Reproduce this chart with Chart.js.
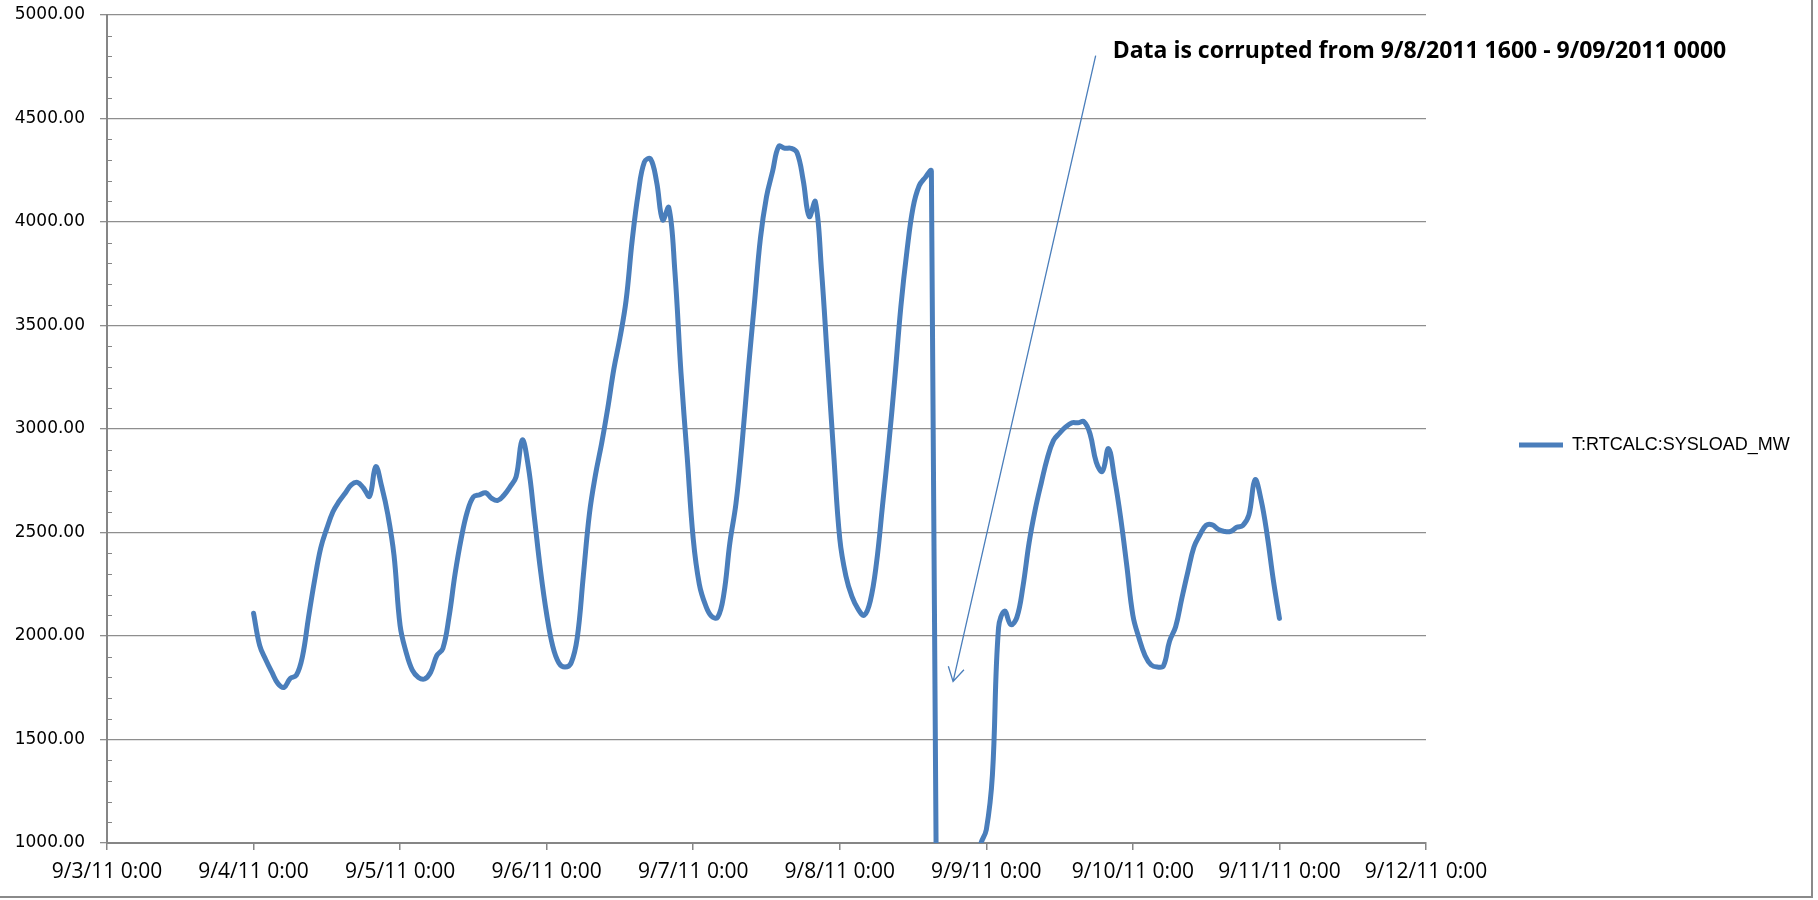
<!DOCTYPE html>
<html>
<head>
<meta charset="utf-8">
<script src="https://cdn.jsdelivr.net/npm/chart.js@4.4.1/dist/chart.umd.min.js"></script>
<style>
  html, body { margin: 0; padding: 0; background: #fff; }
  #wrap {
    position: absolute; left: 0; top: 0;
    width: 1811px; height: 896px;
    border-right: 2px solid #8a8a8a;
    border-bottom: 2px solid #8a8a8a;
  }
</style>
</head>
<body>
<div id="wrap"><canvas id="loadChart"></canvas></div>
<script>
// x axis is in days after 9/3/11 0:00
const tickLabels = ['9/3/11 0:00', '9/4/11 0:00', '9/5/11 0:00', '9/6/11 0:00', '9/7/11 0:00',
                    '9/8/11 0:00', '9/9/11 0:00', '9/10/11 0:00', '9/11/11 0:00', '9/12/11 0:00'];
const yMin = 1000, yMax = 5000, yStep = 500;

// hourly load readings (MW), 0:00 .. 23:00 of each day
const sep04 = [2110, 1955, 1885, 1825, 1770, 1752, 1795, 1810, 1900, 2090, 2270, 2425,
               2520, 2600, 2650, 2690, 2730, 2742, 2715, 2675, 2818, 2720, 2585, 2390];
const sep05 = [2050, 1920, 1835, 1800, 1792, 1825, 1905, 1940, 2090, 2300, 2470, 2600,
               2672, 2682, 2692, 2665, 2655, 2680, 2720, 2770, 2947, 2818, 2570, 2315];
const sep06 = [2105, 1950, 1870, 1850, 1870, 1990, 2290, 2590, 2780, 2930, 3100, 3290,
               3440, 3620, 3910, 4140, 4290, 4305, 4195, 4010, 4070, 3760, 3270, 2870];
const sep07 = [2470, 2250, 2150, 2095, 2090, 2200, 2450, 2640, 2930, 3280, 3600, 3920,
               4122, 4245, 4365, 4356, 4356, 4335, 4203, 4026, 4098, 3770, 3325, 2880];
// 16:00 - 23:00 corrupted (reads far below the axis)
const sep08 = [2470, 2290, 2190, 2130, 2100, 2170, 2350, 2630, 2920, 3240, 3590, 3860,
               4070, 4175, 4215, 4246, 0, 0, 0, 0, 0, 0, 0, 980];
const sep09 = [1065, 1330, 2040, 2120, 2055, 2090, 2240, 2450, 2610, 2740, 2860, 2945,
               2980, 3010, 3030, 3030, 3035, 2975, 2840, 2795, 2905, 2760, 2570, 2340];
const sep10 = [2100, 1990, 1905, 1860, 1850, 1855, 1975, 2045, 2180, 2310, 2430, 2490,
               2535, 2537, 2515, 2505, 2505, 2525, 2534, 2585, 2755, 2657, 2485, 2270];
const sep11 = [2085];

const seriesName = 'T:RTCALC:SYSLOAD_MW';
const noteText = 'Data is corrupted from 9/8/2011 1600 - 9/09/2011 0000';

const blue = '#4a7ebb';
const axisGray = '#868686';
const gridGray = '#8e8e8e';

// build {x, y} points from the day arrays
const points = [];
[sep04, sep05, sep06, sep07, sep08, sep09, sep10, sep11].forEach((vals, d) => {
    vals.forEach((v, h) => points.push({ x: 1 + d + h / 24, y: v }));
});

// legend sizing: keep the plot area ending at the 9/12 tick
const legendFont = { family: 'Liberation Sans', size: 18 };
const legendGap = 93, legendLine = 44;
const mctx = document.createElement('canvas').getContext('2d');
mctx.font = legendFont.size + 'px "' + legendFont.family + '"';
const legendW = legendGap + legendLine + legendFont.size / 2 + mctx.measureText(seriesName).width + 10;
const rightPad = Math.max(0, 385 - legendW);

// small inside ticks every 100 on the value axis
const minorTicks = {
    id: 'minorTicks',
    afterDraw(chart) {
        const { ctx, chartArea, scales: { y } } = chart;
        ctx.save();
        ctx.strokeStyle = axisGray;
        ctx.lineWidth = 1;
        for (let v = yMin + 100; v < yMax; v += 100) {
            if (v % yStep === 0) continue;
            const py = Math.round(y.getPixelForValue(v)) + 0.5;
            ctx.beginPath();
            ctx.moveTo(chartArea.left, py);
            ctx.lineTo(chartArea.left + 5, py);
            ctx.stroke();
        }
        ctx.restore();
    }
};

// callout text with arrow pointing at the gap
const callout = {
    id: 'callout',
    afterDraw(chart) {
        const { ctx, scales: { x, y } } = chart;
        const x0 = x.getPixelForValue(6.746), y0 = y.getPixelForValue(4804);
        const x1 = x.getPixelForValue(5.773), y1 = y.getPixelForValue(1780);
        ctx.save();
        ctx.strokeStyle = blue;
        ctx.lineWidth = 1.3;
        ctx.beginPath();
        ctx.moveTo(x0, y0);
        ctx.lineTo(x1, y1);
        const ang = Math.atan2(y0 - y1, x0 - x1);
        const len = 16, spread = Math.PI / 6;
        ctx.moveTo(x1 + len * Math.cos(ang - spread), y1 + len * Math.sin(ang - spread));
        ctx.lineTo(x1, y1);
        ctx.lineTo(x1 + len * Math.cos(ang + spread), y1 + len * Math.sin(ang + spread));
        ctx.stroke();

        ctx.fillStyle = '#000';
        ctx.font = 'bold 23px "Open Sans"';
        ctx.textBaseline = 'alphabetic';
        ctx.textAlign = 'left';
        ctx.fillText(noteText, x.getPixelForValue(6.862), y.getPixelForValue(4791));
        ctx.restore();
    }
};

Chart.defaults.color = '#000';

new Chart(document.getElementById('loadChart'), {
    type: 'line',
    data: {
        datasets: [{
            label: seriesName,
            data: points,
            borderColor: blue,
            backgroundColor: blue,
            borderWidth: 5,
            borderCapStyle: 'round',
            borderJoinStyle: 'round',
            pointRadius: 0,
            tension: 0.4,
            fill: false,
            clip: 0
        }]
    },
    options: {
        responsive: true,
        maintainAspectRatio: false,
        animation: false,
        devicePixelRatio: 1,
        layout: { padding: { top: 6, right: rightPad, bottom: 12, left: 0 } },
        plugins: {
            legend: {
                position: 'right',
                labels: {
                    usePointStyle: true,
                    pointStyle: 'line',
                    pointStyleWidth: legendLine,
                    boxWidth: legendLine,
                    padding: legendGap,
                    font: legendFont,
                    color: '#000'
                }
            },
            tooltip: { enabled: false }
        },
        scales: {
            x: {
                type: 'linear',
                min: 0,
                max: tickLabels.length - 1,
                afterFit: (s) => { s.height = 41; },
                ticks: {
                    stepSize: 1,
                    autoSkip: false,
                    maxRotation: 0,
                    padding: 10,
                    font: { family: 'Open Sans', size: 21, lineHeight: 1.15 },
                    callback: (v) => tickLabels[v]
                },
                grid: { drawOnChartArea: false, drawTicks: true, tickLength: 7, color: axisGray, lineWidth: 1.5 },
                border: { color: axisGray, width: 2 }
            },
            y: {
                min: yMin,
                max: yMax,
                afterFit: (s) => { s.width = 107; s.paddingTop = 15; s.paddingBottom = 0; },
                ticks: {
                    stepSize: yStep,
                    padding: 15,
                    font: { family: 'DejaVu Sans', size: 17 },
                    callback: (v) => v.toFixed(2)
                },
                grid: { color: gridGray, lineWidth: 1.3, tickLength: 7 },
                border: { color: axisGray, width: 2 }
            }
        }
    },
    plugins: [minorTicks, callout]
});
</script>
</body>
</html>
